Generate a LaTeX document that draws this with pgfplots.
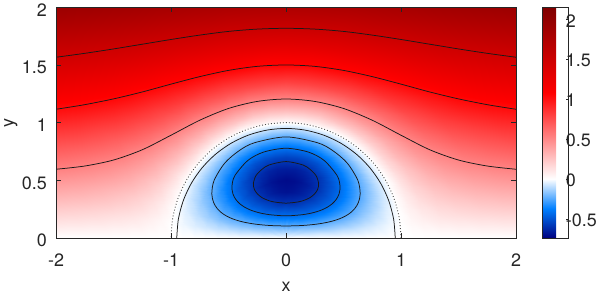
\documentclass[border=0pt]{standalone}
\usepackage{fontspec}
\setmainfont{TeX Gyre Heros}
\usepackage{pgfplots}
\pgfplotsset{compat=1.18}
\definecolor{axgray}{gray}{0.15}
\begin{document}
\begin{tikzpicture}
\useasboundingbox (-56bp,-57bp) rectangle (542bp,238bp);
\begin{axis}[
  at={(0,0)}, anchor=south west,
  scale only axis, width=460bp, height=230.7bp,
  xmin=-2, xmax=2, ymin=0, ymax=2,
  axis on top,
  xtick={-2,-1,0,1,2}, xticklabels={-2,-1,0,1,2},
  ytick={0,0.5,1,1.5,2}, yticklabels={0,0.5,1,1.5,2},
  tick align=inside, major tick length=4.6bp,
  axis line style={axgray, line width=0.6bp},
  tick style={axgray, line width=0.6bp},
  tick label style={font=\fontsize{18}{22}\selectfont, text=axgray, inner sep=0pt},
  xticklabel style={anchor=base, yshift=-28.7bp},
  yticklabel style={anchor=east, xshift=-9bp, yshift=-2.5bp},
  xlabel={x}, ylabel={y},
  label style={font=\fontsize{18}{22}\selectfont, text=axgray, inner sep=0pt},
  xlabel style={at={(axis description cs:0.5,-0.2325)}, anchor=base},
  ylabel style={at={(axis description cs:-0.098,0.5)}, anchor=center},
  colormap={bwr}{rgb(0pt)=(0,0,0.5) rgb(37pt)=(0,0.5,1) rgb(74pt)=(1,1,1) rgb(181.5pt)=(1,0,0) rgb(289pt)=(0.5,0,0)},
  point meta min=-0.74, point meta max=2.15,
  colorbar,
  colorbar style={
    at={(parent axis.south east)}, anchor=south west, xshift=17.5bp,
    scale only axis, width=26.7bp, height=230.7bp,
    ytick={-0.5,0,0.5,1,1.5,2}, yticklabels={-0.5,0,0.5,1,1.5,2},
    yticklabel pos=right, ytick pos=right,
    tick align=inside, major tick length=3bp,
    tick label style={font=\fontsize{18}{22}\selectfont, text=axgray, inner sep=0pt},
    yticklabel style={anchor=west, xshift=-3bp, yshift=-1.5bp},
    axis line style={axgray, line width=0.6bp},
    tick style={axgray, line width=0.6bp},
  },
]
\addplot[surf, shader=interp, point meta=explicit, data cs=polar, mesh/cols=25] table[x=t, y=r, meta=c] {
t r c
0 0 0
7.5 0 0
15 0 0
22.5 0 0
30 0 0
37.5 0 0
45 0 0
52.5 0 0
60 0 0
67.5 0 0
75 0 0
82.5 0 0
90 0 0
97.5 0 0
105 0 0
112.5 0 0
120 0 0
127.5 0 0
135 0 0
142.5 0 0
150 0 0
157.5 0 0
165 0 0
172.5 0 0
180 0 0
0 0.1 0
7.5 0.1 -0.030
15 0.1 -0.059
22.5 0.1 -0.088
30 0.1 -0.115
37.5 0.1 -0.140
45 0.1 -0.162
52.5 0.1 -0.182
60 0.1 -0.199
67.5 0.1 -0.212
75 0.1 -0.222
82.5 0.1 -0.228
90 0.1 -0.230
97.5 0.1 -0.228
105 0.1 -0.222
112.5 0.1 -0.212
120 0.1 -0.199
127.5 0.1 -0.182
135 0.1 -0.162
142.5 0.1 -0.140
150 0.1 -0.115
157.5 0.1 -0.088
165 0.1 -0.059
172.5 0.1 -0.030
180 0.1 0
0 0.2 0
7.5 0.2 -0.057
15 0.2 -0.112
22.5 0.2 -0.166
30 0.2 -0.217
37.5 0.2 -0.264
45 0.2 -0.307
52.5 0.2 -0.344
60 0.2 -0.376
67.5 0.2 -0.401
75 0.2 -0.419
82.5 0.2 -0.430
90 0.2 -0.434
97.5 0.2 -0.430
105 0.2 -0.419
112.5 0.2 -0.401
120 0.2 -0.376
127.5 0.2 -0.344
135 0.2 -0.307
142.5 0.2 -0.264
150 0.2 -0.217
157.5 0.2 -0.166
165 0.2 -0.112
172.5 0.2 -0.057
180 0.2 0
0 0.3 0
7.5 0.3 -0.077
15 0.3 -0.153
22.5 0.3 -0.226
30 0.3 -0.296
37.5 0.3 -0.360
45 0.3 -0.418
52.5 0.3 -0.469
60 0.3 -0.512
67.5 0.3 -0.547
75 0.3 -0.571
82.5 0.3 -0.587
90 0.3 -0.592
97.5 0.3 -0.587
105 0.3 -0.571
112.5 0.3 -0.547
120 0.3 -0.512
127.5 0.3 -0.469
135 0.3 -0.418
142.5 0.3 -0.360
150 0.3 -0.296
157.5 0.3 -0.226
165 0.3 -0.153
172.5 0.3 -0.077
180 0.3 0
0 0.4 0
7.5 0.4 -0.090
15 0.4 -0.178
22.5 0.4 -0.263
30 0.4 -0.343
37.5 0.4 -0.418
45 0.4 -0.485
52.5 0.4 -0.544
60 0.4 -0.594
67.5 0.4 -0.634
75 0.4 -0.663
82.5 0.4 -0.680
90 0.4 -0.686
97.5 0.4 -0.680
105 0.4 -0.663
112.5 0.4 -0.634
120 0.4 -0.594
127.5 0.4 -0.544
135 0.4 -0.485
142.5 0.4 -0.418
150 0.4 -0.343
157.5 0.4 -0.263
165 0.4 -0.178
172.5 0.4 -0.090
180 0.4 0
0 0.5 0
7.5 0.5 -0.092
15 0.5 -0.183
22.5 0.5 -0.271
30 0.5 -0.354
37.5 0.5 -0.431
45 0.5 -0.501
52.5 0.5 -0.562
60 0.5 -0.614
67.5 0.5 -0.655
75 0.5 -0.684
82.5 0.5 -0.702
90 0.5 -0.709
97.5 0.5 -0.702
105 0.5 -0.684
112.5 0.5 -0.655
120 0.5 -0.614
127.5 0.5 -0.562
135 0.5 -0.501
142.5 0.5 -0.431
150 0.5 -0.354
157.5 0.5 -0.271
165 0.5 -0.183
172.5 0.5 -0.092
180 0.5 0
0 0.6 0
7.5 0.6 -0.086
15 0.6 -0.171
22.5 0.6 -0.252
30 0.6 -0.329
37.5 0.6 -0.401
45 0.6 -0.466
52.5 0.6 -0.523
60 0.6 -0.571
67.5 0.6 -0.609
75 0.6 -0.636
82.5 0.6 -0.653
90 0.6 -0.659
97.5 0.6 -0.653
105 0.6 -0.636
112.5 0.6 -0.609
120 0.6 -0.571
127.5 0.6 -0.523
135 0.6 -0.466
142.5 0.6 -0.401
150 0.6 -0.329
157.5 0.6 -0.252
165 0.6 -0.171
172.5 0.6 -0.086
180 0.6 0
0 0.7 0
7.5 0.7 -0.071
15 0.7 -0.141
22.5 0.7 -0.209
30 0.7 -0.273
37.5 0.7 -0.332
45 0.7 -0.386
52.5 0.7 -0.433
60 0.7 -0.472
67.5 0.7 -0.504
75 0.7 -0.527
82.5 0.7 -0.541
90 0.7 -0.545
97.5 0.7 -0.541
105 0.7 -0.527
112.5 0.7 -0.504
120 0.7 -0.472
127.5 0.7 -0.433
135 0.7 -0.386
142.5 0.7 -0.332
150 0.7 -0.273
157.5 0.7 -0.209
165 0.7 -0.141
172.5 0.7 -0.071
180 0.7 0
0 0.8 0
7.5 0.8 -0.050
15 0.8 -0.099
22.5 0.8 -0.147
30 0.8 -0.192
37.5 0.8 -0.233
45 0.8 -0.271
52.5 0.8 -0.304
60 0.8 -0.332
67.5 0.8 -0.354
75 0.8 -0.370
82.5 0.8 -0.380
90 0.8 -0.384
97.5 0.8 -0.380
105 0.8 -0.370
112.5 0.8 -0.354
120 0.8 -0.332
127.5 0.8 -0.304
135 0.8 -0.271
142.5 0.8 -0.233
150 0.8 -0.192
157.5 0.8 -0.147
165 0.8 -0.099
172.5 0.8 -0.050
180 0.8 0
0 0.9 0
7.5 0.9 -0.025
15 0.9 -0.050
22.5 0.9 -0.074
30 0.9 -0.097
37.5 0.9 -0.118
45 0.9 -0.137
52.5 0.9 -0.154
60 0.9 -0.168
67.5 0.9 -0.179
75 0.9 -0.187
82.5 0.9 -0.192
90 0.9 -0.194
97.5 0.9 -0.192
105 0.9 -0.187
112.5 0.9 -0.179
120 0.9 -0.168
127.5 0.9 -0.154
135 0.9 -0.137
142.5 0.9 -0.118
150 0.9 -0.097
157.5 0.9 -0.074
165 0.9 -0.050
172.5 0.9 -0.025
180 0.9 0
0 1.0 0
7.5 1.0 0
15 1.0 0
22.5 1.0 0
30 1.0 0
37.5 1.0 0
45 1.0 0
52.5 1.0 0
60 1.0 0
67.5 1.0 0
75 1.0 0
82.5 1.0 0
90 1.0 0
97.5 1.0 0
105 1.0 0
112.5 1.0 0
120 1.0 0
127.5 1.0 0
135 1.0 0
142.5 1.0 0
150 1.0 0
157.5 1.0 0
165 1.0 0
172.5 1.0 0
180 1.0 0
0 1.1 0
7.5 1.1 0.036
15 1.1 0.071
22.5 1.1 0.105
30 1.1 0.137
37.5 1.1 0.167
45 1.1 0.193
52.5 1.1 0.217
60 1.1 0.237
67.5 1.1 0.253
75 1.1 0.264
82.5 1.1 0.271
90 1.1 0.274
97.5 1.1 0.271
105 1.1 0.264
112.5 1.1 0.253
120 1.1 0.237
127.5 1.1 0.217
135 1.1 0.193
142.5 1.1 0.167
150 1.1 0.137
157.5 1.1 0.105
165 1.1 0.071
172.5 1.1 0.036
180 1.1 0
0 1.2 0
7.5 1.2 0.066
15 1.2 0.131
22.5 1.2 0.193
30 1.2 0.253
37.5 1.2 0.308
45 1.2 0.357
52.5 1.2 0.401
60 1.2 0.438
67.5 1.2 0.467
75 1.2 0.488
82.5 1.2 0.501
90 1.2 0.506
97.5 1.2 0.501
105 1.2 0.488
112.5 1.2 0.467
120 1.2 0.438
127.5 1.2 0.401
135 1.2 0.357
142.5 1.2 0.308
150 1.2 0.253
157.5 1.2 0.193
165 1.2 0.131
172.5 1.2 0.066
180 1.2 0
0 1.35 0
7.5 1.35 0.105
15 1.35 0.207
22.5 1.35 0.307
30 1.35 0.401
37.5 1.35 0.488
45 1.35 0.567
52.5 1.35 0.636
60 1.35 0.694
67.5 1.35 0.740
75 1.35 0.774
82.5 1.35 0.794
90 1.35 0.801
97.5 1.35 0.794
105 1.35 0.774
112.5 1.35 0.740
120 1.35 0.694
127.5 1.35 0.636
135 1.35 0.567
142.5 1.35 0.488
150 1.35 0.401
157.5 1.35 0.307
165 1.35 0.207
172.5 1.35 0.105
180 1.35 0
0 1.5 0
7.5 1.5 0.138
15 1.5 0.273
22.5 1.5 0.404
30 1.5 0.528
37.5 1.5 0.643
45 1.5 0.746
52.5 1.5 0.837
60 1.5 0.914
67.5 1.5 0.975
75 1.5 1.020
82.5 1.5 1.047
90 1.5 1.056
97.5 1.5 1.047
105 1.5 1.020
112.5 1.5 0.975
120 1.5 0.914
127.5 1.5 0.837
135 1.5 0.746
142.5 1.5 0.643
150 1.5 0.528
157.5 1.5 0.404
165 1.5 0.273
172.5 1.5 0.138
180 1.5 0
0 1.7 0
7.5 1.7 0.177
15 1.7 0.350
22.5 1.7 0.518
30 1.7 0.677
37.5 1.7 0.824
45 1.7 0.957
52.5 1.7 1.074
60 1.7 1.173
67.5 1.7 1.251
75 1.7 1.308
82.5 1.7 1.342
90 1.7 1.354
97.5 1.7 1.342
105 1.7 1.308
112.5 1.7 1.251
120 1.7 1.173
127.5 1.7 1.074
135 1.7 0.957
142.5 1.7 0.824
150 1.7 0.677
157.5 1.7 0.518
165 1.7 0.350
172.5 1.7 0.177
180 1.7 0
0 1.9 0
7.5 1.9 0.212
15 1.9 0.420
22.5 1.9 0.621
30 1.9 0.811
37.5 1.9 0.988
45 1.9 1.148
52.5 1.9 1.288
60 1.9 1.406
67.5 1.9 1.499
75 1.9 1.568
82.5 1.9 1.609
90 1.9 1.623
97.5 1.9 1.609
105 1.9 1.568
112.5 1.9 1.499
120 1.9 1.406
127.5 1.9 1.288
135 1.9 1.148
142.5 1.9 0.988
150 1.9 0.811
157.5 1.9 0.621
165 1.9 0.420
172.5 1.9 0.212
180 1.9 0
0 2.1 0
7.5 2.1 0.245
15 2.1 0.485
22.5 2.1 0.717
30 2.1 0.937
37.5 2.1 1.140
45 2.1 1.325
52.5 2.1 1.486
60 2.1 1.622
67.5 2.1 1.731
75 2.1 1.809
82.5 2.1 1.857
90 2.1 1.873
97.5 2.1 1.857
105 2.1 1.809
112.5 2.1 1.731
120 2.1 1.622
127.5 2.1 1.486
135 2.1 1.325
142.5 2.1 1.140
150 2.1 0.937
157.5 2.1 0.717
165 2.1 0.485
172.5 2.1 0.245
180 2.1 0
0 2.35 0
7.5 2.35 0.283
15 2.35 0.561
22.5 2.35 0.830
30 2.35 1.084
37.5 2.35 1.320
45 2.35 1.534
52.5 2.35 1.721
60 2.35 1.878
67.5 2.35 2.004
75 2.35 2.095
82.5 2.35 2.150
90 2.35 2.150
97.5 2.35 2.150
105 2.35 2.095
112.5 2.35 2.004
120 2.35 1.878
127.5 2.35 1.721
135 2.35 1.534
142.5 2.35 1.320
150 2.35 1.084
157.5 2.35 0.830
165 2.35 0.561
172.5 2.35 0.283
180 2.35 0
0 2.6 0
7.5 2.6 0.320
15 2.6 0.635
22.5 2.6 0.938
30 2.6 1.226
37.5 2.6 1.493
45 2.6 1.734
52.5 2.6 1.945
60 2.6 2.124
67.5 2.6 2.150
75 2.6 2.150
82.5 2.6 2.150
90 2.6 2.150
97.5 2.6 2.150
105 2.6 2.150
112.5 2.6 2.150
120 2.6 2.124
127.5 2.6 1.945
135 2.6 1.734
142.5 2.6 1.493
150 2.6 1.226
157.5 2.6 0.938
165 2.6 0.635
172.5 2.6 0.320
180 2.6 0
0 2.85 0
7.5 2.85 0.356
15 2.85 0.706
22.5 2.85 1.044
30 2.85 1.363
37.5 2.85 1.660
45 2.85 1.928
52.5 2.85 2.150
60 2.85 2.150
67.5 2.85 2.150
75 2.85 2.150
82.5 2.85 2.150
90 2.85 2.150
97.5 2.85 2.150
105 2.85 2.150
112.5 2.85 2.150
120 2.85 2.150
127.5 2.85 2.150
135 2.85 1.928
142.5 2.85 1.660
150 2.85 1.363
157.5 2.85 1.044
165 2.85 0.706
172.5 2.85 0.356
180 2.85 0
};
% outer contours
\addplot[black!90, line width=0.75bp, smooth] coordinates {(-2,0.596) (-1.75,0.624) (-1.5,0.676) (-1.25,0.765) (-1,0.891) (-0.75,1.021) (-0.5,1.123) (-0.25,1.184) (0,1.205) (0.25,1.184) (0.5,1.123) (0.75,1.021) (1,0.891) (1.25,0.765) (1.5,0.676) (1.75,0.624) (2,0.596)};
\addplot[black!90, line width=0.75bp, smooth] coordinates {(-2,1.116) (-1.75,1.156) (-1.5,1.206) (-1.25,1.266) (-1,1.334) (-0.75,1.399) (-0.5,1.453) (-0.25,1.488) (0,1.500) (0.25,1.488) (0.5,1.453) (0.75,1.399) (1,1.334) (1.25,1.266) (1.5,1.206) (1.75,1.156) (2,1.116)};
\addplot[black!90, line width=0.75bp, smooth] coordinates {(-2,1.567) (-1.75,1.601) (-1.5,1.639) (-1.25,1.680) (-1,1.721) (-0.75,1.759) (-0.5,1.791) (-0.25,1.811) (0,1.818) (0.25,1.811) (0.5,1.791) (0.75,1.759) (1,1.721) (1.25,1.680) (1.5,1.639) (1.75,1.601) (2,1.567)};
% inner contours (polar: angle, radius)
\addplot[black!90, line width=0.75bp, smooth, data cs=polar] coordinates {(90,0.3016) (75.1,0.32) (66.44,0.35) (59.80,0.40) (57.12,0.45) (56.81,0.50) (58.93,0.55) (64.13,0.60) (70.5,0.63) (76.76,0.65) (90,0.6627) (103.24,0.65) (109.5,0.63) (115.87,0.60) (121.07,0.55) (123.19,0.50) (122.88,0.45) (120.2,0.40) (113.56,0.35) (104.9,0.32) (90,0.3016)};
\addplot[black!90, line width=0.75bp, smooth, data cs=polar] coordinates {(90,0.1933) (75.9,0.20) (64.04,0.22) (54.14,0.25) (45.40,0.30) (40.60,0.35) (37.85,0.40) (36.60,0.45) (36.45,0.50) (37.45,0.55) (39.70,0.60) (43.71,0.65) (50.55,0.70) (63.83,0.75) (75.5,0.77) (90,0.778) (104.5,0.77) (116.17,0.75) (129.45,0.70) (136.29,0.65) (140.30,0.60) (142.55,0.55) (143.55,0.50) (143.40,0.45) (142.15,0.40) (139.40,0.35) (134.60,0.30) (125.86,0.25) (115.96,0.22) (104.1,0.20) (90,0.1933)};
\addplot[black!90, line width=0.75bp, smooth, data cs=polar] coordinates {(90,0.1043) (72.4,0.11) (57.7,0.125) (45.33,0.15) (33.44,0.20) (27.41,0.25) (23.86,0.30) (21.70,0.35) (20.40,0.40) (19.80,0.45) (19.73,0.50) (20.21,0.55) (21.28,0.60) (23.12,0.65) (26.02,0.70) (30.66,0.75) (38.61,0.80) (50.67,0.84) (61.86,0.86) (71.67,0.87) (90,0.8766) (108.33,0.87) (118.14,0.86) (129.33,0.84) (141.39,0.80) (149.34,0.75) (153.98,0.70) (156.88,0.65) (158.72,0.60) (159.79,0.55) (160.27,0.50) (160.20,0.45) (159.60,0.40) (158.30,0.35) (156.14,0.30) (152.59,0.25) (146.56,0.20) (134.67,0.15) (122.3,0.125) (107.6,0.11) (90,0.1043)};
% separatrix (solid) and unit circle (dotted)
\addplot[black!90, line width=0.75bp, smooth, data cs=polar] coordinates {(0,0.95) (10,0.95) (20,0.95) (30,0.95) (40,0.95) (50,0.95) (60,0.95) (70,0.95) (80,0.95) (90,0.95) (100,0.95) (110,0.95) (120,0.95) (130,0.95) (140,0.95) (150,0.95) (160,0.95) (170,0.95) (180,0.95)};
\addplot[black!70, line width=0.9bp, dash pattern=on 0.9bp off 2.1bp, smooth, data cs=polar] coordinates {(0,1) (10,1) (20,1) (30,1) (40,1) (50,1) (60,1) (70,1) (80,1) (90,1) (100,1) (110,1) (120,1) (130,1) (140,1) (150,1) (160,1) (170,1) (180,1)};
\end{axis}
\end{tikzpicture}
\end{document}
